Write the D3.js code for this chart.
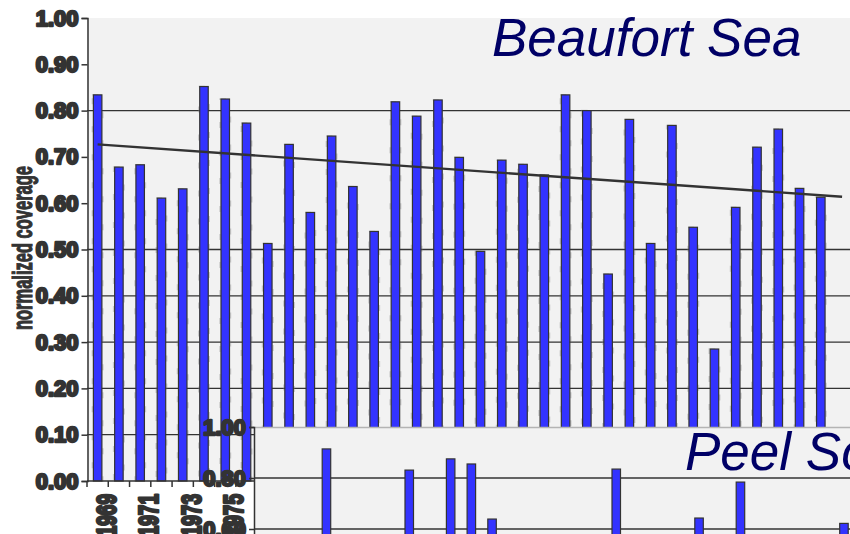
<!DOCTYPE html>
<html>
<head>
<meta charset="utf-8">
<script src="https://cdn.jsdelivr.net/npm/d3@7"></script>
<style>
  body { margin: 0; background: #fff; overflow: hidden; }
  svg { display: block; }
  .tick-lbl { font-family: "Liberation Sans", Arial, sans-serif; font-weight: bold; font-size: 22px; fill: #333; stroke: #333; stroke-width: 2.4px; stroke-linejoin: round; }
  .title { font-family: "Liberation Sans", Arial, sans-serif; font-style: italic; font-size: 53px; fill: #000066; }
</style>
</head>
<body>
<svg id="chart" width="850" height="534"></svg>
<script>
// categories: 1968..2003 (last year has no bar, the trend line reaches it)
var years = d3.range(1968, 2004);
var barYears = d3.range(1968, 2003);

// Beaufort Sea normalized coverage, 1968..2002
var beaufort = [0.834, 0.678, 0.683, 0.611, 0.631, 0.852, 0.825, 0.773, 0.513, 0.727,
                0.580, 0.745, 0.636, 0.539, 0.819, 0.788, 0.823, 0.699, 0.496, 0.693,
                0.684, 0.661, 0.834, 0.800, 0.447, 0.781, 0.513, 0.768, 0.548, 0.285,
                0.591, 0.721, 0.760, 0.632, 0.613];

// linear trend, start and end values
var trendYears = [1968, 2003];
var trendValues = [0.727, 0.614];

// Peel Sound: only bars above the picture's bottom edge can be read; others null
var peel = [null, null, null, 0.914, null, null, null, 0.831, null, 0.875,
            0.855, 0.639, null, null, null, null, null, 0.835, null, null,
            null, 0.643, null, 0.784, null, null, null, null, 0.622, null,
            null, null, null, null, null];

var yTicks = [0, 0.1, 0.2, 0.3, 0.4, 0.5, 0.6, 0.7, 0.8, 0.9, 1.0];
var gridVals = [0.1, 0.2, 0.3, 0.4, 0.5, 0.8];
var xLabelYears = [1969, 1971, 1973, 1975];
var peelTicks = [1.0, 0.8, 0.6];

var svg = d3.select('#chart');

///////////// Beaufort Sea panel /////////////
var x = d3.scaleBand().domain(years).range([87, 87 + 36 * 21.27]);
var y = d3.scaleLinear().domain([0, 1]).range([481, 18]);
var bw = 8.5;

svg.append('rect').attr('x', 87).attr('y', y(1)).attr('width', 850 - 87).attr('height', y(0) - y(1)).attr('fill', '#f2f2f2');

svg.selectAll('.grid').data(gridVals).enter().append('line')
  .attr('x1', 87).attr('x2', 850)
  .attr('y1', function(d) { return y(d); }).attr('y2', function(d) { return y(d); })
  .attr('stroke', '#333').attr('stroke-width', 1.3);

svg.append('text').attr('class', 'title').attr('x', 492).attr('y', 56).text('Beaufort Sea');

var bData = barYears.map(function(yr, i) { return {year: yr, v: beaufort[i]}; });

// faint dashed halo beside bars
svg.selectAll('.halo').data(bData).enter().append('rect')
  .attr('x', function(d) { return x(d.year) + x.bandwidth() / 2 - bw / 2 - 1; })
  .attr('y', function(d) { return y(d.v); })
  .attr('width', bw + 2)
  .attr('height', function(d) { return y(0) - y(d.v); })
  .attr('fill', 'none').attr('stroke', '#888').attr('stroke-opacity', 0.35)
  .attr('stroke-width', 1.5).attr('stroke-dasharray', '6,22');

svg.selectAll('.bar').data(bData).enter().append('rect')
  .attr('x', function(d) { return x(d.year) + x.bandwidth() / 2 - bw / 2; })
  .attr('y', function(d) { return y(d.v); })
  .attr('width', bw)
  .attr('height', function(d) { return y(0) - y(d.v); })
  .attr('fill', '#3333ff').attr('stroke', '#333').attr('stroke-width', 1.2);

var tData = trendYears.map(function(yr, i) { return {year: yr, v: trendValues[i]}; });
svg.append('path').datum(tData)
  .attr('d', d3.line()
    .x(function(d) { return x(d.year) + x.bandwidth() / 2; })
    .y(function(d) { return y(d.v); }))
  .attr('fill', 'none').attr('stroke', '#333').attr('stroke-width', 2.4);

// y axis
var yAxis = svg.append('g').attr('transform', 'translate(87.5,0)')
  .call(d3.axisLeft(y).tickValues(yTicks).tickFormat(d3.format('.2f')).tickSize(6).tickPadding(3));
yAxis.select('.domain').attr('stroke', '#333').attr('stroke-width', 1.5);
yAxis.selectAll('.tick line').attr('stroke', '#333').attr('stroke-width', 1.5);
yAxis.selectAll('.tick text').attr('class', 'tick-lbl').attr('font-family', null).attr('font-size', null).attr('fill', null);

// x axis: ticks at band boundaries
var xAxisG = svg.append('g').attr('transform', 'translate(0,481)');
xAxisG.append('line').attr('x1', 87).attr('x2', 254).attr('stroke', '#333').attr('stroke-width', 1.5);
xAxisG.selectAll('.xt').data(years.filter(function(d) { return x(d) < 254; })).enter().append('line')
  .attr('x1', function(d) { return x(d); }).attr('x2', function(d) { return x(d); })
  .attr('y1', 0).attr('y2', 6).attr('stroke', '#333').attr('stroke-width', 1.5);
// tall condensed rotated year labels
xAxisG.selectAll('.xl').data(xLabelYears).enter().append('text')
  .attr('class', 'tick-lbl')
  .style('font-size', '19px').style('stroke-width', '1.8px')
  .attr('text-anchor', 'end').attr('dominant-baseline', 'middle')
  .attr('transform', function(d) { return 'translate(' + x(d) + ',13) rotate(-90) scale(1,1.5)'; })
  .text(function(d) { return d; });

// y axis title, tall narrow lettering
svg.append('text')
  .attr('transform', 'translate(32,248) rotate(-90) scale(1,1.65)')
  .attr('text-anchor', 'middle')
  .attr('font-family', '"Liberation Sans", Arial, sans-serif').attr('font-weight', 'bold')
  .attr('font-size', 16.5).attr('fill', '#333')
  .attr('stroke', '#333').attr('stroke-width', 0.7)
  .text('normalized coverage');

///////////// Peel Sound panel (overlaid) /////////////
var px = d3.scaleBand().domain(years).range([254, 254 + 36 * 20.7]);
var py = d3.scaleLinear().domain([0, 1]).range([682, 427]);

var peelG = svg.append('g');
peelG.append('rect').attr('x', 254).attr('y', py(1)).attr('width', 600).attr('height', 200).attr('fill', '#f2f2f2');
peelG.append('line').attr('x1', 254).attr('x2', 850).attr('y1', py(1) + 0.5).attr('y2', py(1) + 0.5)
  .attr('stroke', '#b4b4b4').attr('stroke-width', 1.5);
peelG.selectAll('.pgrid').data([0.8, 0.6]).enter().append('line')
  .attr('x1', 254).attr('x2', 850)
  .attr('y1', function(d) { return py(d); }).attr('y2', function(d) { return py(d); })
  .attr('stroke', '#333').attr('stroke-width', 1.3);

peelG.append('text').attr('class', 'title').attr('x', 685).attr('y', 470).text('Peel Sound');

var pData = barYears.map(function(yr, i) { return {year: yr, v: peel[i]}; })
  .filter(function(d) { return d.v !== null; });
peelG.selectAll('.pbar').data(pData).enter().append('rect')
  .attr('x', function(d) { return px(d.year) + px.bandwidth() / 2 - bw / 2; })
  .attr('y', function(d) { return py(d.v); })
  .attr('width', bw)
  .attr('height', function(d) { return py(0) - py(d.v); })
  .attr('fill', '#3333ff').attr('stroke', '#333').attr('stroke-width', 1.2);

var pAxis = peelG.append('g').attr('transform', 'translate(254,0)')
  .call(d3.axisLeft(py).tickValues(peelTicks).tickFormat(d3.format('.2f')).tickSize(5).tickPadding(3));
pAxis.select('.domain').attr('stroke', '#333').attr('stroke-width', 1.5);
pAxis.selectAll('.tick line').attr('stroke', '#333').attr('stroke-width', 1.5);
pAxis.selectAll('.tick text').attr('class', 'tick-lbl').attr('font-family', null).attr('font-size', null).attr('fill', null);
</script>
</body>
</html>
